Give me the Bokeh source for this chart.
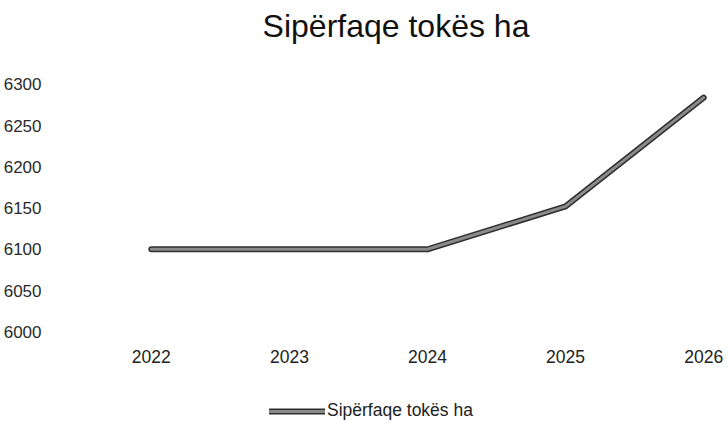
from bokeh.plotting import figure
from bokeh.models import Range1d, Legend, LegendItem, FixedTicker, ColumnDataSource
from bokeh.core.properties import value
from bokeh.embed import file_html
from bokeh.resources import INLINE

years = [2022, 2023, 2024, 2025, 2026]
values = [6100, 6100, 6100, 6152, 6284]
year_labels = ["2022", "2023", "2024", "2025", "2026"]
y_ticks = [6000, 6050, 6100, 6150, 6200, 6250, 6300]
series_name = "Sipërfaqe tokës ha"
title_text = "Sipërfaqe tokës ha"

LABEL_Y = 5969.8  # vertical position of the category labels (layout constant)

src = ColumnDataSource(data=dict(x=years, y=values))
lab = ColumnDataSource(data=dict(x=years, y=[LABEL_Y] * len(years), t=year_labels))

p = figure(width=728, height=425, output_backend="svg", toolbar_location=None,
           x_range=Range1d(2021.364, 2026.18), y_range=Range1d(5886.3, 6343.5),
           min_border_left=62, min_border_right=0, min_border_top=47, min_border_bottom=0)

p.title.text = title_text
p.title.text_font = "Liberation Sans"
p.title.text_font_size = "32px"
p.title.text_font_style = "normal"
p.title.text_color = "#111111"
p.title.align = "center"
p.title.offset = 10
p.title.standoff = 10

p.outline_line_color = None
p.xgrid.grid_line_color = None
p.ygrid.grid_line_color = None
p.xaxis.visible = False

ax = p.yaxis[0]
ax.axis_line_color = None
ax.major_tick_line_color = None
ax.minor_tick_line_color = None
ax.major_label_text_font = "Liberation Sans"
ax.major_label_text_font_size = "17px"
ax.major_label_text_color = "#2a2a2a"
ax.ticker = FixedTicker(ticks=y_ticks)
ax.major_label_standoff = 16

p.text("x", "y", text="t", source=lab, text_align="center", text_baseline="middle",
       text_font=value("Liberation Sans"), text_font_size="17.5px", text_color="#222222")

r1 = p.line("x", "y", source=src, line_width=6, line_color="#2e2e2e", line_cap="round", line_join="round")
r2 = p.line("x", "y", source=src, line_width=3, line_color="#8a8a8a", line_cap="round", line_join="round")

legend = Legend(items=[LegendItem(label=series_name, renderers=[r1, r2])],
                location=(206, 4), orientation="horizontal",
                label_text_font="Liberation Sans", label_text_font_size="17.5px",
                label_text_color="#222222", glyph_width=56, glyph_height=20,
                label_standoff=2, border_line_color=None, background_fill_alpha=0,
                padding=0, margin=0)
p.add_layout(legend)

open("out.html", "w").write(file_html(p, INLINE))
